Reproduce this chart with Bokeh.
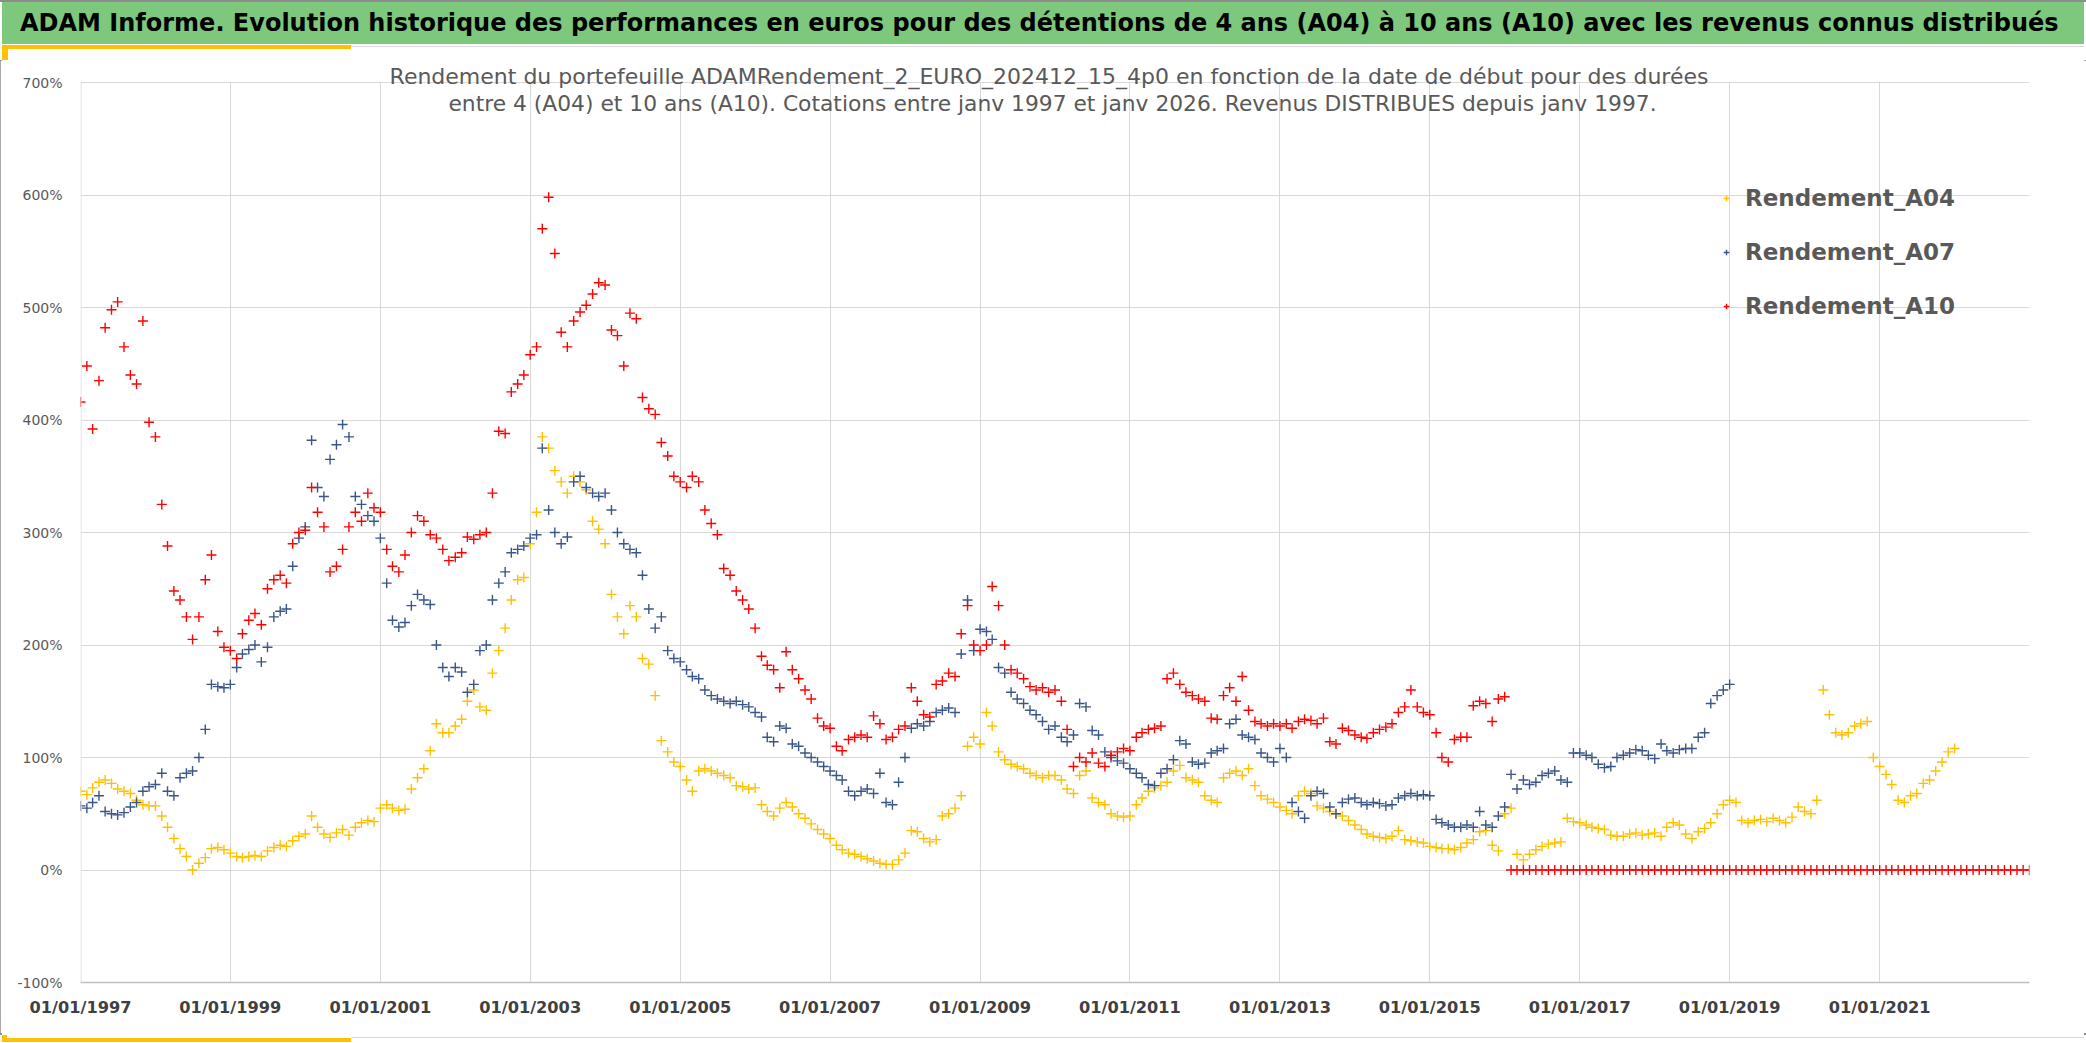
import pandas as pd
from datetime import datetime
from bokeh.plotting import figure
from bokeh.layouts import column
from bokeh.models import (Range1d, FixedTicker, DatetimeTickFormatter, PrintfTickFormatter,
                          Label, BoxAnnotation, Legend, LegendItem, ColumnDataSource, Div)
from bokeh.embed import file_html
from bokeh.resources import INLINE

# ---------------- data (monthly readings, % return) ----------------
A04_START = "1997-01-01"
A04 = [
    70, 67, 73, 78, 80, 77, 72, 70, 68, 62, 58, 57,          # 1997
    57, 48, 38, 28, 19, 12, 0, 6, 11, 19, 20, 18,            # 1998
    15, 12, 11, 12, 13, 12, 17, 20, 22, 21, 26, 30,          # 1999
    32, 48, 38, 32, 29, 33, 36, 31, 38, 42, 44, 43,          # 2000
    55, 58, 55, 53, 54, 72, 82, 90, 106, 130, 122, 122,      # 2001
    128, 134, 150, 160, 145, 142, 175, 195, 215, 240, 258, 260,  # 2002
    290, 318, 385, 375, 355, 345, 335, 350, 345, 338, 310, 303,  # 2003
    290, 245, 225, 210, 235, 225, 188, 183, 155, 115, 105, 96,   # 2004
    92, 80, 70, 88, 90, 88, 86, 84, 82, 75, 74, 72,          # 2005
    73, 58, 52, 48, 55, 60, 56, 50, 46, 41, 36, 32,          # 2006
    28, 22, 18, 15, 14, 12, 10, 8, 6, 5, 5, 9,               # 2007
    15, 35, 34, 28, 25, 27, 48, 50, 55, 66, 110, 118,        # 2008
    112, 140, 128, 105, 98, 94, 92, 90, 86, 84, 82, 84,      # 2009
    84, 80, 72, 68, 84, 88, 64, 60, 58, 50, 48, 47,          # 2010
    48, 58, 64, 70, 73, 75, 78, 88, 93, 82, 80, 78,          # 2011
    66, 62, 60, 82, 86, 88, 84, 90, 75, 66, 63, 60,          # 2012
    56, 53, 50, 66, 70, 68, 57, 55, 52, 50, 48, 44,          # 2013
    40, 36, 32, 30, 29, 28, 30, 35, 27, 26, 25, 24,          # 2014
    21, 20, 19, 19, 18, 20, 24, 27, 34, 35, 22, 17,          # 2015
    50, 55, 14, 9, 14, 18, 21, 23, 24, 25, 46, 43,           # 2016
    42, 40, 38, 37, 36, 31, 30, 30, 32, 33, 31, 32,          # 2017
    33, 30, 38, 42, 40, 32, 28, 34, 37, 42, 50, 58,          # 2018
    62, 60, 44, 42, 44, 45, 43, 46, 44, 42, 47, 56,          # 2019
    52, 50, 62, 160, 138, 122, 120, 122, 128, 130, 132, 100, # 2020
    92, 85, 76, 62, 60, 66, 68, 77, 80, 88, 96, 105,         # 2021
    108,                                                     # 2022
]

A07_START = "1997-01-01"
A07 = [
    57, 55, 60, 66, 52, 50, 49, 51, 56, 60, 70, 74,          # 1997
    76, 86, 70, 66, 82, 86, 88, 100, 125, 165, 163, 162,     # 1998
    165, 180, 192, 196, 200, 185, 198, 225, 230, 232, 270, 295,  # 1999
    305, 382, 340, 332, 365, 378, 396, 385, 332, 325, 315, 310,  # 2000
    295, 255, 222, 216, 220, 235, 245, 240, 236, 200, 180, 172,  # 2001
    180, 176, 158, 165, 195, 200, 240, 255, 265, 282, 285, 288,  # 2002
    295, 298, 375, 320, 300, 290, 296, 345, 350, 340, 335, 332,  # 2003
    335, 320, 300, 290, 285, 282, 262, 232, 215, 225, 195, 188,  # 2004
    185, 178, 172, 170, 160, 155, 152, 150, 148, 150, 147, 145,  # 2005
    140, 136, 118, 114, 128, 126, 112, 110, 104, 100, 96, 92,    # 2006
    88, 84, 80, 70, 66, 70, 72, 68, 86, 60, 58, 78,          # 2007
    100, 126, 130, 128, 132, 140, 142, 144, 140, 192, 240, 195,  # 2008
    214, 212, 205, 180, 175, 158, 152, 148, 142, 138, 132, 125,  # 2009
    128, 118, 114, 120, 148, 145, 124, 120, 105, 100, 97, 95,    # 2010
    90, 86, 82, 76, 75, 86, 90, 98, 115, 112, 96, 94,        # 2011
    95, 104, 106, 108, 130, 134, 120, 118, 116, 104, 100, 96,    # 2012
    108, 100, 60, 52, 46, 66, 70, 68, 56, 50, 60, 63,        # 2013
    64, 60, 58, 60, 59, 57, 58, 64, 66, 68, 66, 67,          # 2014
    66, 45, 42, 40, 38, 38, 40, 38, 52, 40, 38, 48,          # 2015
    56, 85, 72, 80, 76, 78, 84, 86, 88, 80, 78, 104,         # 2016
    104, 102, 100, 94, 91, 92, 100, 102, 104, 107, 106, 102, # 2017
    99, 112, 106, 104, 107, 108, 108, 118, 122, 148, 155, 160,   # 2018
    165,                                                     # 2019
]

A10_START = "1997-01-01"
A10 = [
    416, 448, 392, 435, 482, 498, 505, 465, 440, 432, 488, 398,  # 1997
    385, 325, 288, 248, 240, 225, 205, 225, 258, 280, 212, 198,  # 1998
    195, 188, 210, 222, 228, 218, 250, 258, 262, 255, 290, 300,  # 1999
    302, 340, 318, 305, 265, 270, 285, 305, 318, 310, 335, 322,  # 2000
    318, 285, 270, 265, 280, 300, 315, 310, 298, 295, 285, 275,  # 2001
    278, 282, 296, 294, 298, 300, 335, 390, 388, 425, 432, 440,  # 2002
    458, 465, 570, 598, 548, 478, 465, 488, 496, 502, 512, 522,  # 2003
    520, 480, 475, 448, 495, 490, 420, 410, 405, 380, 368, 350,  # 2004
    345, 340, 350, 345, 320, 308, 298, 268, 262, 248, 240, 232,  # 2005
    215, 190, 182, 178, 162, 194, 178, 170, 160, 152, 135, 128,  # 2006
    126, 110, 106, 116, 118, 120, 118, 137, 130, 116, 118, 125,  # 2007
    128, 162, 150, 138, 136, 165, 168, 175, 172, 210, 235, 200,  # 2008
    195, 200, 252, 235, 200, 178, 175, 170, 163, 160, 162, 158,  # 2009
    160, 150, 125, 92, 100, 96, 104, 95, 92, 102, 105, 108,      # 2010
    106, 118, 122, 125, 126, 128, 170, 175, 165, 158, 155, 152,  # 2011
    150, 135, 134, 155, 162, 150, 172, 142, 132, 130, 128, 130,  # 2012
    128, 130, 126, 132, 134, 133, 130, 135, 114, 112, 126, 124,  # 2013
    120, 118, 117, 122, 125, 127, 130, 140, 145, 160, 145, 140,  # 2014
    138, 122, 100, 96, 116, 118, 118, 146, 150, 148, 132, 152,   # 2015
    154,                                                         # 2016
]

# A10 has no known value after 2016: plotted at 0 %
A10_TAIL_START = "2016-02-01"
A10_TAIL = [
    0, 0, 0, 0, 0, 0, 0, 0, 0, 0, 0,
    0, 0, 0, 0, 0, 0, 0, 0, 0, 0, 0, 0,
    0, 0, 0, 0, 0, 0, 0, 0, 0, 0, 0, 0,
    0, 0, 0, 0, 0, 0, 0, 0, 0, 0, 0, 0,
    0, 0, 0, 0, 0, 0, 0, 0, 0, 0, 0, 0,
    0, 0, 0, 0, 0, 0, 0, 0, 0, 0, 0, 0,
    0, 0, 0, 0, 0, 0, 0, 0, 0, 0, 0, 0,
    0,
]

X_TICK_YEARS = [1997, 1999, 2001, 2003, 2005, 2007, 2009, 2011, 2013, 2015, 2017, 2019, 2021]
Y_TICKS = [-100, 0, 100, 200, 300, 400, 500, 600, 700]
SERIES_NAMES = ["Rendement_A04", "Rendement_A07", "Rendement_A10"]

TITLE = ("ADAM Informe. Evolution historique des performances en euros pour des "
         "détentions de 4 ans (A04) à 10 ans (A10) avec les revenus connus distribués")
SUB1 = ("Rendement du portefeuille ADAMRendement_2_EURO_202412_15_4p0  en fonction de "
        "la date de début pour des durées")
SUB2 = ("entre 4 (A04) et 10 ans (A10). Cotations entre janv 1997 et janv 2026. "
        "Revenus DISTRIBUES depuis janv 1997.")

C04, C07, C10 = "#FFC000", "#3A5587", "#FF0000"
GREEN, GOLD, GRID, EDGE = "#7DC87D", "#FFC000", "#D9D9D9", "#8C8C8C"


def src(start, vals):
    d = pd.date_range(start=start, periods=len(vals), freq="MS")
    return ColumnDataSource(dict(x=d, y=vals))


def block(l, t, w, h, color):
    return (f'<div style="position:absolute;left:{l}px;top:{t}px;width:{w}px;'
            f'height:{h}px;background:{color};"></div>')


# ---------------- header strip (page y 0..60) ----------------
HEAD_H = 60
head_html = (
    f'<div style="position:relative;width:2086px;height:{HEAD_H}px;background:#ffffff;'
    f'overflow:hidden;">'
    + block(0, 0, 2086, 2, EDGE)
    + block(2, 2, 2082, 42, GREEN)
    + block(2, 45, 349, 4, GOLD)
    + block(351, 46, 1733, 1, GRID)
    + block(2, 45, 6, HEAD_H - 45, GOLD)
    + f'<div style="position:absolute;left:20px;top:2px;height:42px;line-height:42px;'
      f'white-space:nowrap;font-family:\'DejaVu Sans\';font-weight:bold;font-size:24px;'
      f'color:#000000;">{TITLE}</div>'
    + '</div>'
)
hd = Div(text=head_html, width=2086, height=HEAD_H, margin=0,
         styles={"overflow": "hidden"})

# ---------------- main chart (page y 60..1033) ----------------
MAIN_H = 973
FRAME_TOP, FRAME_BOTTOM = 60, 982            # page coordinates
UNIT_PER_PX = 800 / 900                      # 700% .. -100% over 900 px
Y_END = -100 + (FRAME_BOTTOM - FRAME_TOP) * UNIT_PER_PX

p = figure(width=2086, height=MAIN_H, x_axis_type="datetime", output_backend="svg",
           toolbar_location=None, title=None,
           x_range=Range1d(datetime(1997, 1, 1), datetime(2023, 1, 1)),
           y_range=Range1d(-100, Y_END),
           min_border_left=80, min_border_right=57, min_border_top=0,
           min_border_bottom=MAIN_H - (FRAME_BOTTOM - HEAD_H))
p.outline_line_color = None
p.background_fill_color = "white"
p.border_fill_color = "white"

xt = [pd.Timestamp(f"{y}-01-01").value // 10**6 for y in X_TICK_YEARS]
p.xaxis.ticker = FixedTicker(ticks=xt)
p.xgrid.ticker = FixedTicker(ticks=xt)
fmt = "%d/%m/%Y"
p.xaxis.formatter = DatetimeTickFormatter(years=fmt, months=fmt, days=fmt, hours=fmt,
                                          minutes=fmt, seconds=fmt, milliseconds=fmt)
p.xaxis.major_label_text_font = "DejaVu Sans"
p.xaxis.major_label_text_font_style = "bold"
p.xaxis.major_label_text_font_size = "16.2px"
p.xaxis.major_label_text_color = "#404040"
p.xaxis.major_label_standoff = 9
p.xaxis.axis_line_color = "#BFBFBF"
p.xaxis.axis_line_width = 1.5
p.xaxis.major_tick_line_color = None
p.xaxis.minor_tick_line_color = None

p.yaxis.ticker = FixedTicker(ticks=Y_TICKS)
p.ygrid.ticker = FixedTicker(ticks=Y_TICKS)
p.yaxis.formatter = PrintfTickFormatter(format="%d%%")
p.yaxis.major_label_text_font = "DejaVu Sans"
p.yaxis.major_label_text_font_size = "14px"
p.yaxis.major_label_text_color = "#595959"
p.yaxis.major_label_standoff = 12
p.yaxis.axis_line_color = None
p.yaxis.major_tick_line_color = None
p.yaxis.minor_tick_line_color = None

p.xgrid.grid_line_color = GRID
p.ygrid.grid_line_color = GRID

# white cover above the 700 % line (the subtitle lives there)
p.add_layout(BoxAnnotation(bottom=700.6, fill_color="white", fill_alpha=1.0,
                           line_color=None))
# left axis line from -100 % to 700 %
p.add_layout(BoxAnnotation(bottom=-100, top=700, left_units="screen", right_units="screen",
                           left=0, right=1, fill_color=GRID, fill_alpha=1.0,
                           line_color=None))

MS = 10
LW = 1.4
r04 = p.scatter("x", "y", source=src(A04_START, A04), marker="cross", size=MS,
                line_color=C04, line_width=LW)
r07 = p.scatter("x", "y", source=src(A07_START, A07), marker="cross", size=MS,
                line_color=C07, line_width=LW)
r10 = p.scatter("x", "y", source=src(A10_START, A10), marker="cross", size=MS,
                line_color=C10, line_width=LW)
p.scatter("x", "y", source=src(A10_TAIL_START, A10_TAIL), marker="cross", size=MS,
          line_color=C10, line_width=LW)

# subtitle (screen units: x from frame left, y from frame bottom)
p.add_layout(Label(x=1052 - 80, y=FRAME_BOTTOM - 76, x_units="screen", y_units="screen",
                   text=SUB1, text_font="DejaVu Sans", text_font_size="22px",
                   text_color="#595959", text_align="center", text_baseline="middle"))
p.add_layout(Label(x=1052 - 80, y=FRAME_BOTTOM - 103, x_units="screen", y_units="screen",
                   text=SUB2, text_font="DejaVu Sans", text_font_size="21.8px",
                   text_color="#595959", text_align="center", text_baseline="middle"))

legend = Legend(items=[LegendItem(label=SERIES_NAMES[0], renderers=[r04]),
                       LegendItem(label=SERIES_NAMES[1], renderers=[r07]),
                       LegendItem(label=SERIES_NAMES[2], renderers=[r10])],
                location=(1639, 663))
legend.label_text_font = "DejaVu Sans"
legend.label_text_font_style = "bold"
legend.label_text_font_size = "23px"
legend.label_text_color = "#595959"
legend.glyph_width = 14
legend.glyph_height = 14
legend.label_standoff = 12
legend.spacing = 28
legend.padding = 6
legend.margin = 0
legend.border_line_color = None
legend.background_fill_alpha = 0
p.add_layout(legend)

# ---------------- footer strip (page y 1033..1043) ----------------
FOOT_H = 10
foot_html = (
    f'<div style="position:relative;width:2086px;height:{FOOT_H}px;background:#ffffff;'
    f'overflow:hidden;">'
    + block(351, 2, 1733, 1, GRID)
    + block(2, 3, 349, 4, GOLD)
    + block(2, 0, 5, 7, GOLD)
    + block(0, 8, 2086, 2, EDGE)
    + '</div>'
)
ft = Div(text=foot_html, width=2086, height=FOOT_H, margin=0,
         styles={"overflow": "hidden"})

layout = column(hd, p, ft, spacing=0,
                styles={"outline": f"2px solid {EDGE}", "outline-offset": "-2px"})

open("out.html", "w").write(file_html(layout, INLINE))
